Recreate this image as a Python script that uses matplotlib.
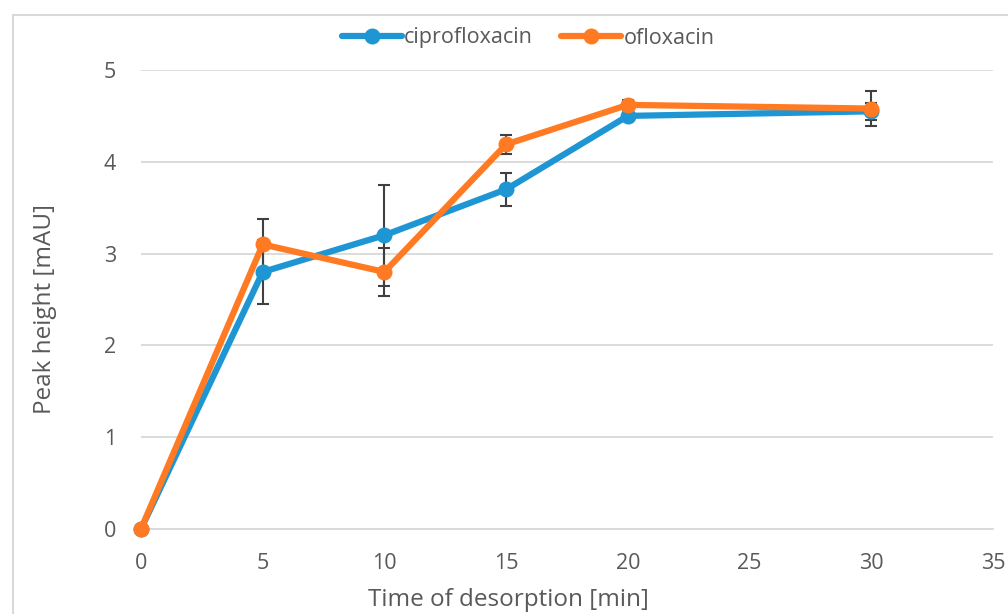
import matplotlib
matplotlib.use("Agg")
import matplotlib.pyplot as plt
from matplotlib.patches import Rectangle

# desorption time [min]
time_min = [0, 5, 10, 15, 20, 30]

cipro = [0, 2.80, 3.20, 3.70, 4.50, 4.55]
cipro_err = [0, 0.35, 0.55, 0.18, 0.06, 0.09]

oflox = [0, 3.10, 2.80, 4.19, 4.62, 4.58]
oflox_err = [0, 0.28, 0.26, 0.10, 0.05, 0.19]

x_ticks = [0, 5, 10, 15, 20, 25, 30, 35]
y_ticks = [0, 1, 2, 3, 4, 5]

BLUE = "#1E96D3"
ORANGE = "#FF7A22"
GREY_TXT = "#595959"
GRID = "#D9D9D9"
ERR = "#404040"

plt.rcParams["font.family"] = ["Open Sans", "DejaVu Sans"]

fig = plt.figure(figsize=(10.08, 6.14), dpi=100)
ax = fig.add_axes([141 / 1008, 1 - 529 / 614, (993 - 141) / 1008, (529 - 70) / 614])

# outer chart frame (cut off at right/bottom like the reference)
fig.patches.append(Rectangle((13 / 1008, -0.1), 1.2, 1 - 15 / 614 + 0.1,
                             transform=fig.transFigure, fill=False,
                             edgecolor=GRID, lw=1.5))

for ys, col, lab in [(cipro, BLUE, "ciprofloxacin"), (oflox, ORANGE, "ofloxacin")]:
    ax.plot(time_min, ys, color=col, lw=4.5, marker="o", markersize=10.5,
            label=lab, clip_on=False, zorder=3, solid_capstyle="round")

for ys, err in [(cipro, cipro_err), (oflox, oflox_err)]:
    ax.errorbar(time_min, ys, yerr=err, fmt="none", ecolor=ERR, elinewidth=1.5,
                capsize=4.5, capthick=1.5, zorder=2.5, clip_on=False)

ax.set_xlim(0, 35)
ax.set_ylim(0, 5)
ax.set_xticks(x_ticks)
ax.set_yticks(y_ticks)
ax.yaxis.grid(True, color=GRID, lw=1.3)
ax.set_axisbelow(True)
for side in ["top", "right", "left"]:
    ax.spines[side].set_visible(False)
ax.spines["bottom"].set_color(GRID)
ax.spines["bottom"].set_linewidth(1.3)
ax.tick_params(length=0, labelsize=15.5, colors=GREY_TXT)
ax.tick_params(axis="x", pad=17)
ax.tick_params(axis="y", pad=18)

ax.set_xlabel("Time of desorption [min]", fontsize=17.5, color=GREY_TXT)
ax.xaxis.set_label_coords((508 - 141) / 852, -0.128)
ax.set_ylabel("Peak height [mAU]", fontsize=17.5, color=GREY_TXT)
ax.yaxis.set_label_coords(-0.099, 0.48)

fig.legend(loc="center", bbox_to_anchor=(528 / 1008, 1 - 38 / 614), ncol=2,
           frameon=False, fontsize=15.5, handlelength=2.8, columnspacing=1.3,
           handletextpad=0.1, labelcolor=GREY_TXT)

fig.savefig("out.png", dpi=100)
